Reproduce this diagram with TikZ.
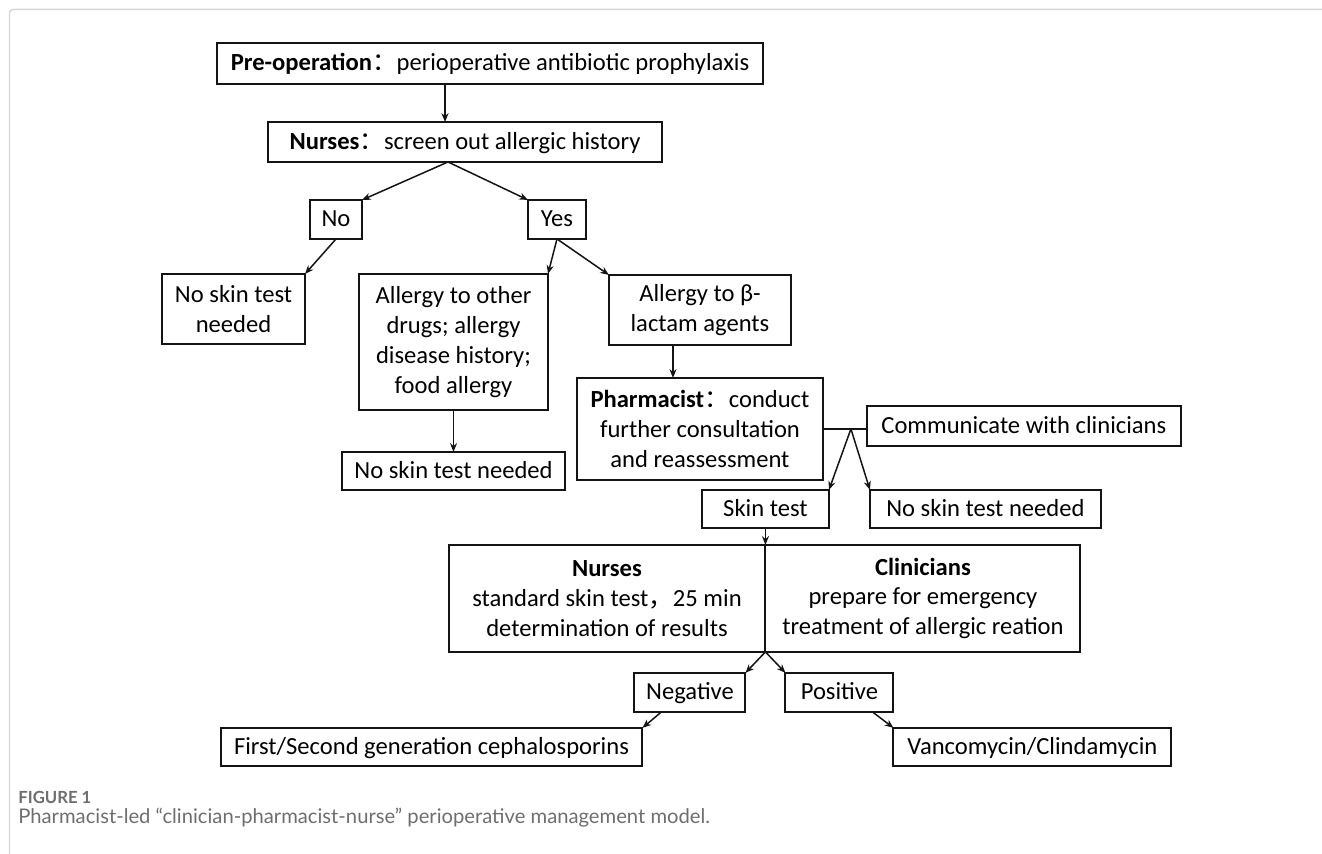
\documentclass[tikz,border=0pt]{standalone}
\usepackage{fontspec}
\setmainfont{Carlito}
\newfontfamily\cjk{Noto Sans CJK SC}
\newfontfamily\capfont{Lato}
\usetikzlibrary{arrows.meta, positioning}
\definecolor{lineDark}{RGB}{20, 20, 20}
\definecolor{frameGray}{RGB}{214, 214, 214}
\definecolor{captionGray}{RGB}{110, 110, 110}

\begin{document}
\begin{tikzpicture}[
    x=0.02cm, y=-0.02cm,
    flowbox/.style={
        rectangle,
        draw=lineDark,
        line width=0.04cm,
        outer sep=0pt,
        align=center,
        inner sep=2pt,
        minimum height=0.78cm,
        font=\fontsize{14}{17}\selectfont
    },
    onerow/.style={
        flowbox,
        text height=12.5pt,
        text depth=4pt
    },
    arr/.style={
        -{Stealth[length=5pt, width=4pt]},
        line width=0.03cm,
        lineDark
    },
    captext/.style={
        anchor=west,
        inner sep=0pt,
        text=captionGray
    }
]
\useasboundingbox (0,0) rectangle (1322,854);

% Frame round the figure
\draw[frameGray, line width=0.03cm, rounded corners=2pt] (9.5,854) -- (9.5,9.5) -- (1322,9.5);

% Screening
\node[onerow, minimum width=10.92cm, minimum height=0.82cm] (pre) at (490,63.5) {\textbf{Pre-operation}{\cjk ：}perioperative antibiotic prophylaxis};
\node[onerow, minimum width=7.88cm, minimum height=0.8cm, below=0.76cm of pre, xshift=-0.5cm] (nur) {\textbf{Nurses}{\cjk ：}screen out allergic history};
\node[onerow, minimum width=1.04cm, below=0.76cm of nur, xshift=-2.58cm] (no) {No};
\node[onerow, minimum width=1.16cm, right=3.32cm of no] (yes) {Yes};

% Allergic history
\node[flowbox, minimum width=2.86cm, minimum height=1.4cm, below=0.7cm of no, xshift=-2.05cm] (noneedA) {No skin test\\needed};
\node[flowbox, minimum width=3.78cm, minimum height=2.72cm, below=0.7cm of yes, xshift=-2.07cm] (other) {Allergy to other\\drugs; allergy\\disease history;\\food allergy};
\node[flowbox, minimum width=3.64cm, minimum height=1.4cm, below=0.72cm of yes, xshift=2.86cm] (beta) {Allergy to β-\\lactam agents};
\node[onerow, minimum width=4.46cm, minimum height=0.76cm, below=0.84cm of other] (noneedB) {No skin test needed};
\node[flowbox, minimum width=4.92cm, minimum height=2.04cm, below=0.66cm of beta] (pharm) {\textbf{Pharmacist}{\cjk ：}conduct\\further consultation\\and reassessment};
\node[onerow, minimum width=6.28cm, minimum height=0.8cm, right=0.88cm of pharm, yshift=0.06cm] (comm) {Communicate with clinicians};
\node[onerow, minimum width=2.54cm, minimum height=0.76cm, below=0.2cm of pharm, xshift=1.31cm] (skin) {Skin test};
\node[onerow, minimum width=4.62cm, minimum height=0.76cm, right=0.82cm of skin] (noneedC) {No skin test needed};

% Skin test and results
\node[flowbox, minimum width=6.34cm, minimum height=2.14cm, below left=0.34cm and 0cm of skin.south] (nurtest) {\textbf{Nurses}\\standard skin test{\cjk ，}25 min\\determination of results};
\node[flowbox, minimum width=6.3cm, minimum height=2.14cm, right=0cm of nurtest] (clin) {\textbf{Clinicians}\\prepare for emergency\\treatment of allergic reation};
\node[onerow, minimum width=2.22cm, below left=0.42cm and 0.4cm of nurtest.south east] (neg) {Negative};
\node[onerow, minimum width=2.16cm, below right=0.42cm and 0.4cm of clin.south west] (pos) {Positive};
\node[onerow, minimum width=8.44cm, minimum height=0.76cm, below left=0.32cm and 0.95cm of neg.south] (ceph) {First/Second generation cephalosporins};
\node[onerow, minimum width=5.56cm, minimum height=0.76cm, below right=0.32cm and 1.08cm of pos.south] (vanc) {Vancomycin/Clindamycin};

% Caption
\node[captext, font=\capfont\bfseries\fontsize{9.5}{11}\selectfont] (figno) at (18,797) {FIGURE 1};
\node[captext, font=\capfont\fontsize{11.5}{13}\selectfont] (figcap) at (18,818) {Pharmacist-led “clinician-pharmacist-nurse” perioperative management model.};

% Connectors
\draw[arr] ([xshift=-0.9cm]pre.south) -- ([xshift=-0.9cm]pre.south |- nur.north);
\coordinate (fork1) at ([xshift=-0.34cm]nur.south);
\draw[arr] (fork1) -- (no.north east);
\draw[arr] (fork1) -- (yes.north west);
\draw[arr] (no.south) -- (noneedA.north east);
\draw[arr] (yes.south) -- (other.north east);
\draw[arr] (yes.south) -- (beta.north west);
\draw[arr] ([xshift=-0.54cm]beta.south) -- ([xshift=-0.54cm]beta.south |- pharm.north);
\draw[arr] (other.south) -- (noneedB.north);
\coordinate (fork2) at ([xshift=0.56cm]pharm.east);
\draw[line width=0.03cm, lineDark] (pharm.east) -- (fork2) -- (fork2 -| comm.west);
\draw[arr] (fork2) -- (skin.north east);
\draw[arr] (fork2) -- (noneedC.north west);
\draw[arr] (skin.south) -- (nurtest.north east);
\draw[arr] (nurtest.south east) -- (neg.north east);
\draw[arr] (nurtest.south east) -- (pos.north west);
\draw[arr] ([xshift=0.54cm]neg.south west) -- (ceph.north east);
\draw[arr] ([xshift=-0.42cm]pos.south east) -- (vanc.north west);

\end{tikzpicture}
\end{document}
